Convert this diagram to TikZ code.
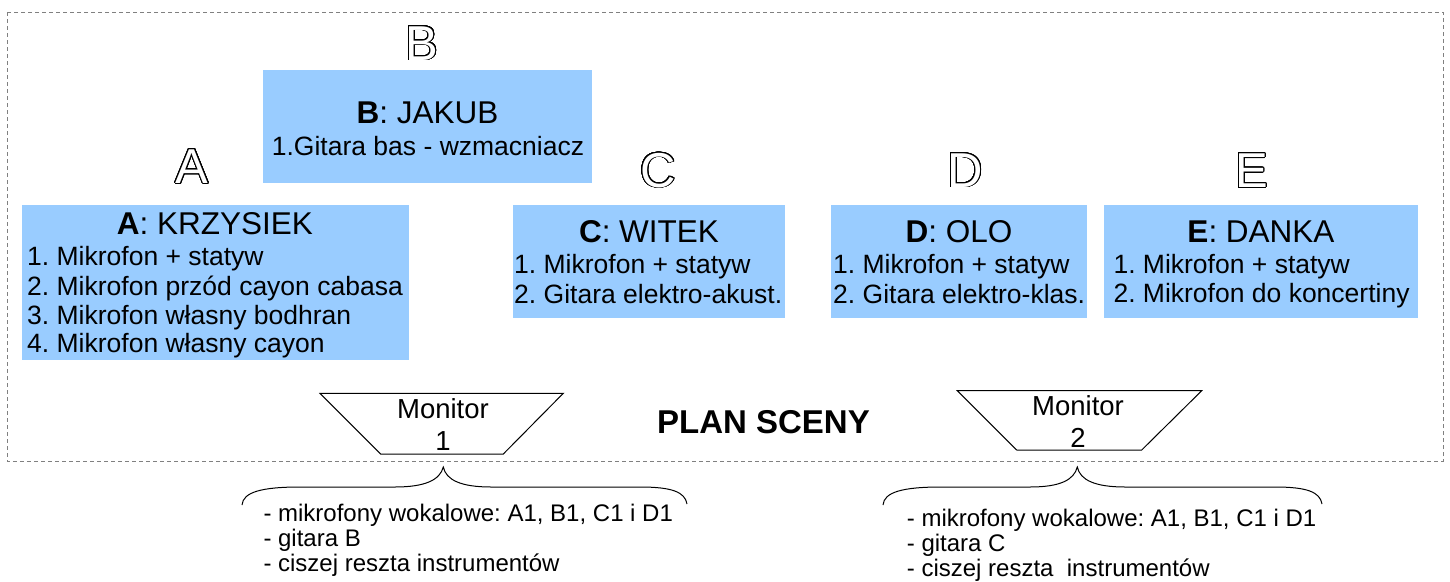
\documentclass[tikz,border=0pt]{standalone}
\usepackage{fontspec}
\setmainfont{Liberation Sans}
\usepackage{contour}
\contourlength{0.9pt}
\contournumber{32}
\definecolor{boxblue}{HTML}{99CCFF}
\definecolor{framegray}{HTML}{808080}
\newcommand\ttlf{\fontsize{31.5}{35}\selectfont}
\newcommand\bdyf{\fontsize{26.5}{30}\selectfont}
\newcommand\lstf{\fontsize{24}{26}\selectfont}
\newcommand\monf{\fontsize{27.5}{31}\selectfont}
\newcommand\planf{\fontsize{33}{37}\selectfont\bfseries}
\newcommand\bigltr{\fontsize{49}{55}\selectfont}
\newcommand\outl[1]{\contour{black}{\textcolor{white}{#1}}}
\frenchspacing
\begin{document}
\begin{tikzpicture}[x=1pt,y=-1pt,
  pbox/.style={fill=boxblue, draw=none, anchor=north west, inner sep=0, outer sep=0},
  ttl/.style={anchor=base, inner sep=0, font=\ttlf},
  itm/.style={anchor=base west, inner sep=0, font=\bdyf},
  lst/.style={anchor=base west, inner sep=0, font=\lstf},
  ltr/.style={anchor=base, inner sep=0, font=\bigltr},
  mon/.style={anchor=base, inner sep=0, font=\monf},
  frame/.style={draw=framegray, line width=1pt, dash pattern=on 4pt off 3pt},
  monline/.style={draw=black, line width=1pt},
  brc/.style={draw=black, line width=1pt}]
\useasboundingbox (0,0) rectangle (1450,581);
% frame
\draw[frame] (7,12) rectangle (1443,461);
% outline letters
\node[ltr] (lB) at (422,60) {\outl{B}};
\node[ltr] (lA) at (192,183.3) {\outl{A}};
\node[ltr] (lC) at (658,187) {\outl{C}};
\node[ltr] (lD) at (965,187) {\outl{D}};
\node[ltr] (lE) at (1251.5,187.3) {\outl{E}};
% boxes
\node[pbox, minimum width=329pt, minimum height=113pt] (boxB) at (263,70) {};
\node[pbox, minimum width=387pt, minimum height=155pt] (boxA) at (22,205) {};
\node[pbox, minimum width=272pt, minimum height=113pt] (boxC) at (513,205) {};
\node[pbox, minimum width=256pt, minimum height=113pt] (boxD) at (831,205) {};
\node[pbox, minimum width=314pt, minimum height=113pt] (boxE) at (1104,205) {};
% B
\node[ttl] (tB) at (427.5,123.3) {\textbf{B}: JAKUB};
\node[anchor=base, inner sep=0, font=\bdyf] (B1) at (428,155) {1.Gitara bas - wzmacniacz};
% A
\node[ttl] (tA) at (215,234.3) {\textbf{A}: KRZYSIEK};
\node[itm] (A1) at (27,265.7) {1. Mikrofon + statyw};
\node[itm] (A2) at (27,295) {2. Mikrofon przód cayon cabasa};
\node[itm] (A3) at (27,324) {3. Mikrofon własny bodhran};
\node[itm] (A4) at (27,352.7) {4. Mikrofon własny cayon};
% C
\node[ttl] (tC) at (649,242.7) {\textbf{C}: WITEK};
\node[itm] (C1) at (514,273.3) {1. Mikrofon + statyw};
\node[itm] (C2) at (514,303.3) {2. Gitara elektro-akust.};
% D
\node[ttl] (tD) at (959,242.7) {\textbf{D}: OLO};
\node[itm] (D1) at (833,273.3) {1. Mikrofon + statyw};
\node[itm] (D2) at (833,303.3) {2. Gitara elektro-klas.};
% E
\node[ttl] (tE) at (1261,242.7) {\textbf{E}: DANKA};
\node[itm] (E1) at (1113.3,273.3) {1. Mikrofon + statyw};
\node[itm] (E2) at (1113.3,302.3) {2. Mikrofon do koncertiny};
% monitors
\draw[monline] (320,393.3) -- (563.3,393.3) -- (503.3,454) -- (380.7,454) -- cycle;
\node[mon] (m1a) at (443,418) {Monitor};
\node[mon] (m1b) at (443,450) {1};
\draw[monline] (957.3,390.7) -- (1201.7,390.7) -- (1141.7,450) -- (1016.7,450) -- cycle;
\node[mon] (m2a) at (1078,415) {Monitor};
\node[mon] (m2b) at (1078,447) {2};
% title
\node[anchor=base, inner sep=0, font=\planf] (plan) at (763.5,433) {PLAN SCENY};
% braces
\coordinate (br1) at (443.3,467);
\coordinate (br2) at (1077.3,467);
\draw[brc] (242,505) .. controls (243,492) and (262,487) .. (300,487) -- (395,487)
  .. controls (425,487) and (440,480) .. (br1)
  .. controls (446,480) and (461,487) .. (491,487) -- (640,487)
  .. controls (672,487) and (685,492) .. (687,504);
\draw[brc] (883,505) .. controls (884,492) and (903,487) .. (941,487) -- (1030,487)
  .. controls (1060,487) and (1074,480) .. (br2)
  .. controls (1080,480) and (1095,487) .. (1125,487) -- (1275,487)
  .. controls (1307,487) and (1320,492) .. (1322,504);
% lists
\node[lst] (L1a) at (263.3,521.7) {- mikrofony wokalowe: A1, B1, C1 i D1};
\node[lst] (L1b) at (263.3,546.7) {- gitara B};
\node[lst] (L1c) at (263.3,571.7) {- ciszej reszta instrumentów};
\node[lst] (L2a) at (906.7,526.7) {- mikrofony wokalowe: A1, B1, C1 i D1};
\node[lst] (L2b) at (906.7,551.7) {- gitara C};
\node[lst] (L2c) at (906.7,576.5) {- ciszej reszta\ \ instrumentów};
\end{tikzpicture}
\end{document}
